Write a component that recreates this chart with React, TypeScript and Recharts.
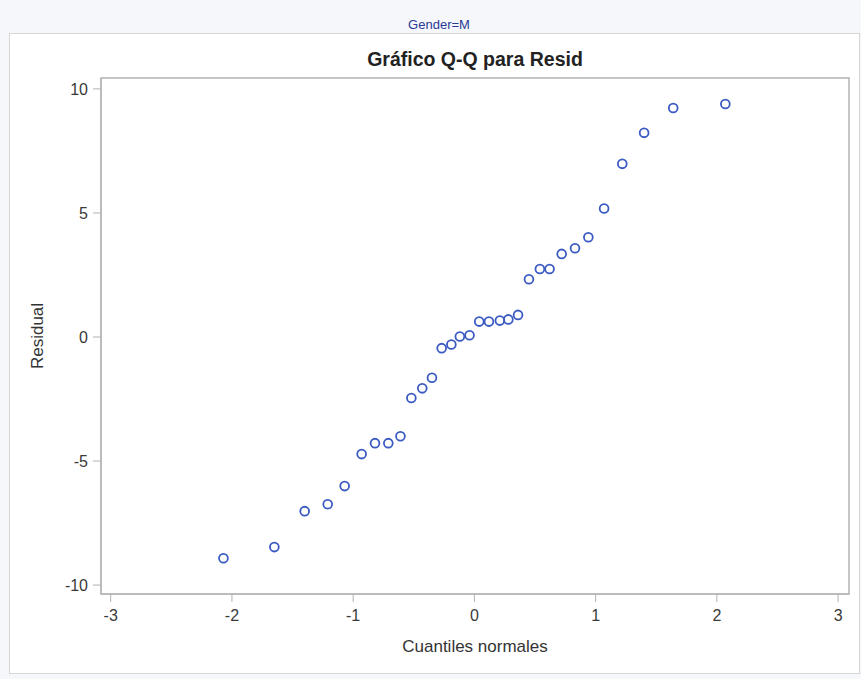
import { ScatterChart, Scatter, XAxis, YAxis, ReferenceArea } from 'recharts';

const quantiles = [
  -2.07, -1.65, -1.4, -1.21, -1.07, -0.93, -0.82, -0.71, -0.61, -0.52, -0.43,
  -0.35, -0.27, -0.19, -0.12, -0.04, 0.04, 0.12, 0.21, 0.28, 0.36, 0.45, 0.54,
  0.62, 0.72, 0.83, 0.94, 1.07, 1.22, 1.4, 1.64, 2.07,
];
const residuals = [
  -8.92, -8.47, -7.02, -6.74, -6.01, -4.72, -4.28, -4.28, -4.0, -2.46, -2.07,
  -1.64, -0.45, -0.3, 0.02, 0.07, 0.62, 0.62, 0.66, 0.71, 0.89, 2.33, 2.74,
  2.74, 3.35, 3.58, 4.02, 5.18, 6.98, 8.23, 9.23, 9.39,
];
const xTicks = [-3, -2, -1, 0, 1, 2, 3];
const yTicks = [-10, -5, 0, 5, 10];

const points = quantiles.map((q, i) => ({ q, r: residuals[i] }));

const font = '"Liberation Sans", Arial, sans-serif';
const tickStyle = { fill: '#3a3a3a', fontSize: 16, fontFamily: font };
const labelStyle = { fill: '#333', fontSize: 17, fontFamily: font };
const frameColor = '#b2b2b2';
const marker = '#3c5bc2';
const xDomain = [-3.08, 3.09];
const yDomain = [-10.36, 10.44];

const Ring = (props: any) => (
  <circle cx={props.cx} cy={props.cy} r={4.4} fill="none" stroke={marker} strokeWidth={1.8} />
);

export default function App() {
  return (
    <div style={{ position: 'fixed', left: 0, top: 0, width: 861, height: 679, background: '#f5f7fb', fontFamily: font }}>
      <div style={{ position: 'absolute', left: 0, top: 17, width: 878, textAlign: 'center', fontSize: 13, color: '#2a3a96' }}>
        Gender=M
      </div>
      <div
        style={{
          position: 'absolute',
          left: 9,
          top: 33,
          width: 849,
          height: 639,
          background: '#fff',
          border: '1px solid #d6d6d6',
        }}
      />
      <div
        style={{
          position: 'absolute',
          left: 101,
          top: 48,
          width: 748,
          textAlign: 'center',
          fontSize: 19.5,
          fontWeight: 'bold',
          color: '#222',
        }}
      >
        Gráfico Q-Q para Resid
      </div>
      <div style={{ position: 'absolute', left: 0, top: 0 }}>
        <ScatterChart width={861} height={679} margin={{ top: 78, right: 12, bottom: 0, left: 0 }}>
          <XAxis
            type="number"
            dataKey="q"
            domain={xDomain}
            ticks={xTicks}
            allowDataOverflow
            height={85}
            tick={tickStyle}
            tickSize={8}
            tickMargin={8}
            stroke={frameColor}
            label={{
              value: 'Cuantiles normales',
              position: 'insideBottom',
              offset: 27,
              style: labelStyle,
            }}
          />
          <YAxis
            type="number"
            dataKey="r"
            domain={yDomain}
            ticks={yTicks}
            allowDataOverflow
            width={101}
            tick={tickStyle}
            tickSize={8}
            tickMargin={5}
            stroke={frameColor}
            label={{
              value: 'Residual',
              angle: -90,
              position: 'insideLeft',
              offset: 37,
              style: { ...labelStyle, textAnchor: 'middle' },
            }}
          />
          <ReferenceArea
            x1={xDomain[0]}
            x2={xDomain[1]}
            y1={yDomain[0]}
            y2={yDomain[1]}
            fill="none"
            fillOpacity={0}
            stroke={frameColor}
            strokeWidth={1.5}
            ifOverflow="visible"
          />
          <Scatter data={points} shape={Ring} isAnimationActive={false} />
        </ScatterChart>
      </div>
    </div>
  );
}
